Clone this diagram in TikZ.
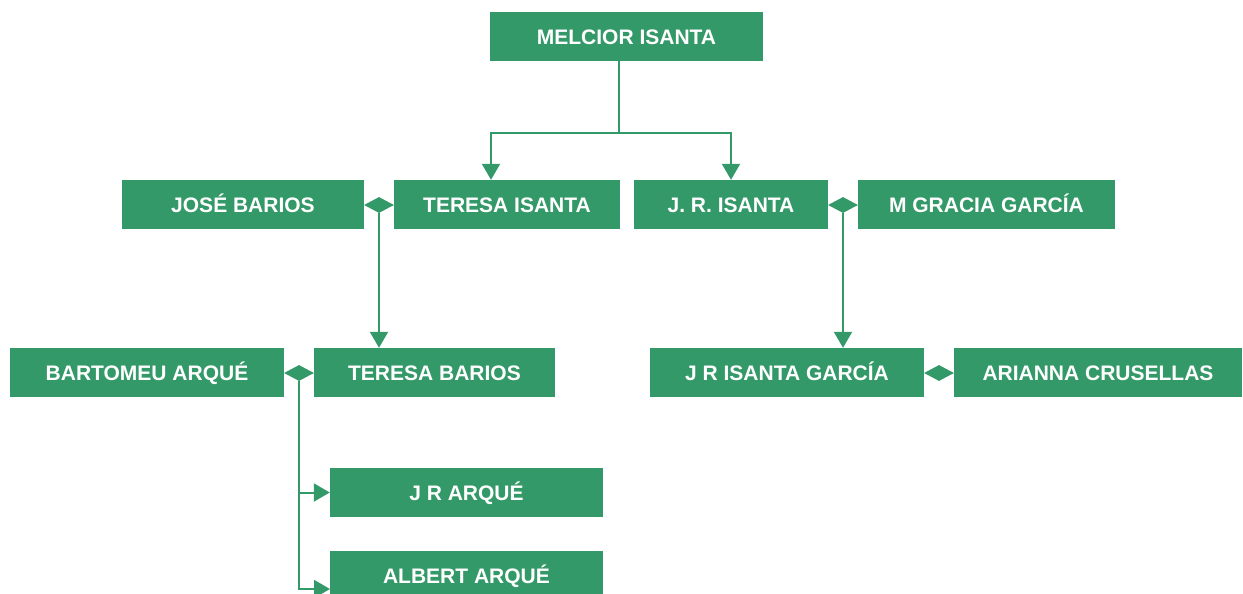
\documentclass[tikz,border=0pt]{standalone}
\usepackage{fontspec}
\setmainfont{Liberation Sans}
\usepackage{tikz}
\usetikzlibrary{shapes.geometric, arrows.meta, positioning, calc}

\definecolor{famgreen}{RGB}{52,153,104}

\tikzset{
	person/.style={fill=famgreen, text=white, minimum height=49pt, inner sep=0pt,
		text height=15pt, text depth=0pt,
		font=\fontsize{21}{25}\selectfont\bfseries},
	wed/.style={diamond, fill=famgreen, minimum width=30pt, minimum height=16pt, inner sep=0pt},
	link/.style={draw=famgreen, line width=1pt},
	child/.style={link, -{Triangle[width=9pt,length=8pt]}}
}

\begin{document}
\begin{tikzpicture}[x=1pt, y=1pt, scale=0.5, every node/.style={transform shape}]
		
		\useasboundingbox (0,0) rectangle (1243,-594);
		
		%//first generation
		\node [person, minimum width=273pt] (melcior) at (626.5,-36.5) {MELCIOR ISANTA};
		
		%//second generation
		\node [person, minimum width=242pt] (jose) at (243,-204.5) {JOSÉ BARIOS};
		\node [person, minimum width=226pt] (teresai) at (507,-204.5) {TERESA ISANTA};
		\node [person, minimum width=194pt] (jr) at (731,-204.5) {J. R. ISANTA};
		\node [person, minimum width=257pt] (gracia) at (986.5,-204.5) {M GRACIA GARCÍA};
		
		%//third generation
		\node [person, minimum width=274pt] (bartomeu) at (147,-372.5) {BARTOMEU ARQUÉ};
		\node [person, minimum width=241pt] (teresab) at (434.5,-372.5) {TERESA BARIOS};
		\node [person, minimum width=274pt] (jrig) at (787,-372.5) {J R ISANTA GARCÍA};
		\node [person, minimum width=288pt] (arianna) at (1098,-372.5) {ARIANNA CRUSELLAS};
		
		%//fourth generation
		\node [person, minimum width=273pt] (jrarque) at (466.5,-492.5) {J R ARQUÉ};
		\node [person, minimum width=273pt] (albert) at (466.5,-575.5) {ALBERT ARQUÉ};
		
		%//couples
		\node [wed] (wed1) at (379,-205) {};
		\node [wed] (wed2) at (843,-205) {};
		\node [wed] (wed3) at (299,-373) {};
		\node [wed] (wed4) at (939,-373) {};
		
		\coordinate (split) at (619,-133);
		\coordinate (left) at (491,-133);
		\coordinate (albertin) at (330,-589);
		
		\draw [link] (melcior.south -| split) -- (split);
		\draw [child] (split) -- (left) -- (left |- teresai.north);
		\draw [child] (split) -| (jr.north);
		
		\draw [child] (wed1.south) -- (wed1.south |- teresab.north);
		\draw [child] (wed2.south) -- (wed2.south |- jrig.north);
		\draw [child] (wed3.south) |- (jrarque.west);
		\draw [child] (wed3.south) |- (albertin);
		
\end{tikzpicture}
\end{document}
